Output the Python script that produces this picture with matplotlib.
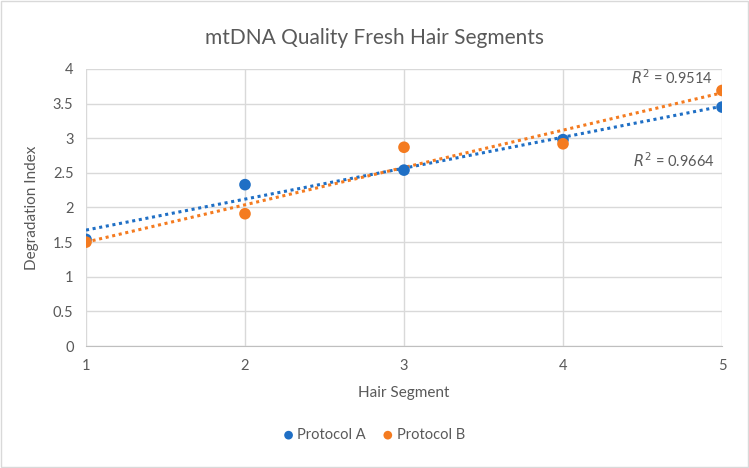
import matplotlib
matplotlib.use("Agg")
import numpy as np
import matplotlib.pyplot as plt
from matplotlib.patches import Rectangle
from matplotlib.ticker import FuncFormatter

plt.rcParams['font.family'] = ['Lato', 'DejaVu Sans']

# valores
segmentos = [1, 2, 3, 4, 5]
protocolo_a = [1.54, 2.33, 2.54, 2.98, 3.45]
protocolo_b = [1.50, 1.91, 2.87, 2.92, 3.69]
r2_a = "0.9664"
r2_b = "0.9514"

azul = "#1f6fc5"
laranja = "#f47b20"
cinza = "#595959"

fig = plt.figure(figsize=(7.49, 4.68), dpi=100)
ax = fig.add_axes([86 / 749, 122 / 468, 636 / 749, 277 / 468])

x = np.array(segmentos)
for ys, cor, nome in [(protocolo_a, azul, "Protocol A"), (protocolo_b, laranja, "Protocol B")]:
    ax.scatter(x, ys, s=70, color=cor, zorder=4, label=nome, edgecolors="none")
    # linha de tendência linear (como no Excel)
    a, b = np.polyfit(x, ys, 1)
    ax.plot(x, a * x + b, color=cor, linestyle=(0, (1, 1.2)), linewidth=2.2, zorder=3)

ax.text(4.94, 3.87, r"$R^2$ = " + r2_b, ha="right", va="center", color=cinza, fontsize=10.5)
ax.text(4.955, 2.67, r"$R^2$ = " + r2_a, ha="right", va="center", color=cinza, fontsize=10.5)

ax.set_xlim(1, 5)
ax.set_ylim(0, 4)
ax.set_xticks(segmentos)
ax.set_yticks(np.arange(0, 4.01, 0.5))
ax.yaxis.set_major_formatter(FuncFormatter(lambda v, p: "%g" % v))
ax.grid(True, color="#d9d9d9", linewidth=1, zorder=0)
ax.set_axisbelow(True)
for s in ax.spines.values():
    s.set_visible(False)
ax.spines["bottom"].set_visible(True)
ax.spines["bottom"].set_color("#bfbfbf")
ax.tick_params(length=0, colors=cinza, labelsize=10.5, pad=9)

ax.set_xlabel("Hair Segment", color=cinza, fontsize=11, labelpad=10)
ax.set_ylabel("Degradation Index", color=cinza, fontsize=11, labelpad=10)
fig.text(0.5, 1 - 38 / 468, "mtDNA Quality Fresh Hair Segments", ha="center", va="center",
         color=cinza, fontsize=15)

fig.legend(loc="center", bbox_to_anchor=(0.5, 1 - 435 / 468), ncol=2, frameon=False,
           handlelength=0.6, handletextpad=0.3, columnspacing=1.2, fontsize=10.5,
           labelcolor=cinza, markerscale=0.75)

fig.patches.append(Rectangle((0.002, 0.003), 0.996, 0.994, transform=fig.transFigure,
                             fill=False, edgecolor="#d9d9d9", linewidth=1))

fig.savefig("out.png", dpi=100)
